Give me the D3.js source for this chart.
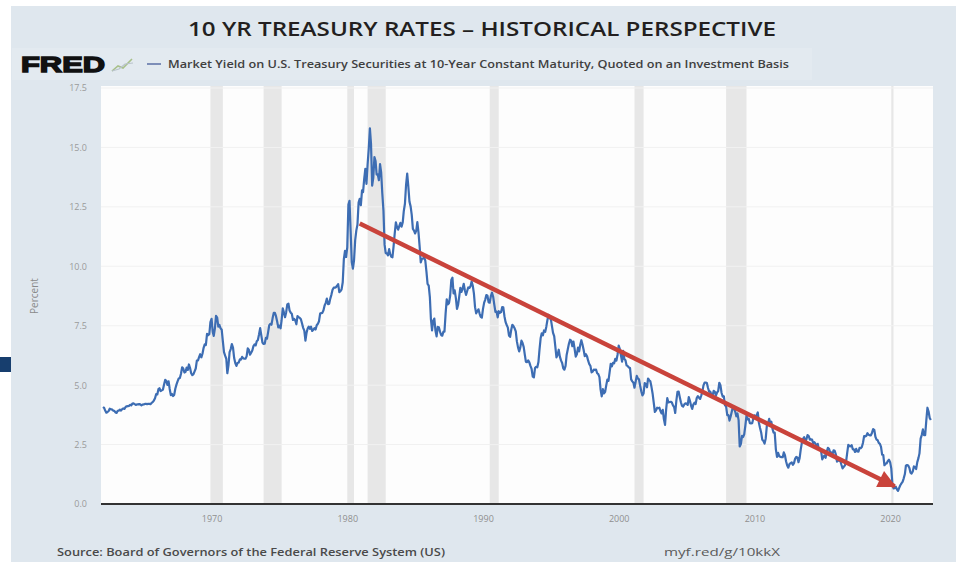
<!DOCTYPE html>
<html>
<head>
<meta charset="utf-8">
<script src="https://cdn.jsdelivr.net/npm/d3@7"></script>
<style>
  html, body { margin: 0; padding: 0; background: #ffffff; }
  svg { display: block; font-family: "Open Sans", "DejaVu Sans", sans-serif; }
</style>
</head>
<body>
<div id="chart"></div>
<script>
// Chart sizes
const WIDTH = 956;
const HEIGHT = 562;
const PLOT = { left: 101, right: 933, top: 86, bottom: 504 };

// Texts
const TITLE = "10 YR TREASURY RATES \u2013 HISTORICAL PERSPECTIVE";
const SERIES_NAME = "Market Yield on U.S. Treasury Securities at 10-Year Constant Maturity, Quoted on an Investment Basis";
const Y_LABEL = "Percent";
const SOURCE = "Source: Board of Governors of the Federal Reserve System (US)";
const LINK = "myf.red/g/10kkX";

// Data: monthly yield in percent, starting January of START_YEAR
const START_YEAR = 1962;
const yieldPct = [
  4.08, 4.04, 3.93, 3.84, 3.87, 3.91, 4.01, 3.98, 3.98, 3.93, 3.92, 3.86,
  3.83, 3.92, 3.93, 3.97, 3.93, 3.99, 4.02, 4.00, 4.08, 4.11, 4.12, 4.13,
  4.17, 4.15, 4.22, 4.23, 4.20, 4.17, 4.19, 4.19, 4.20, 4.19, 4.15, 4.18,
  4.19, 4.21, 4.21, 4.20, 4.21, 4.21, 4.20, 4.25, 4.29, 4.35, 4.45, 4.62,
  4.61, 4.83, 4.87, 4.75, 4.78, 4.81, 5.02, 5.22, 5.18, 5.01, 5.16, 4.84,
  4.58, 4.63, 4.54, 4.59, 4.85, 5.02, 5.16, 5.28, 5.30, 5.48, 5.75, 5.70,
  5.53, 5.56, 5.74, 5.64, 5.87, 5.72, 5.50, 5.42, 5.46, 5.58, 5.70, 6.03,
  6.04, 6.19, 6.30, 6.17, 6.32, 6.57, 6.72, 6.69, 7.16, 7.10, 7.14, 7.65,
  7.79, 7.24, 7.07, 7.39, 7.91, 7.84, 7.46, 7.53, 7.39, 7.33, 6.84, 6.39,
  6.24, 6.11, 5.50, 5.83, 6.39, 6.52, 6.73, 6.58, 6.14, 5.93, 5.81, 5.93,
  5.95, 6.08, 6.07, 6.19, 6.13, 6.11, 6.11, 6.21, 6.55, 6.48, 6.28, 6.36,
  6.46, 6.64, 6.71, 6.67, 6.85, 6.90, 7.13, 7.40, 7.09, 6.79, 6.73, 6.74,
  6.99, 6.96, 7.21, 7.51, 7.58, 7.54, 7.81, 8.04, 8.04, 7.90, 7.68, 7.43,
  7.50, 7.39, 7.73, 8.23, 8.06, 7.86, 8.06, 8.40, 8.43, 8.14, 8.05, 8.00,
  7.74, 7.79, 7.73, 7.56, 7.90, 7.86, 7.83, 7.77, 7.59, 7.41, 7.29, 6.87,
  7.21, 7.39, 7.46, 7.37, 7.46, 7.28, 7.33, 7.40, 7.34, 7.52, 7.58, 7.69,
  8.01, 8.03, 8.04, 8.15, 8.35, 8.46, 8.64, 8.41, 8.42, 8.64, 8.81, 9.01,
  9.10, 9.10, 9.12, 9.18, 9.25, 8.91, 8.95, 9.03, 9.33, 10.30, 10.65, 10.39,
  10.80, 12.60, 12.75, 11.47, 10.18, 9.90, 10.25, 11.10, 11.51, 11.75, 12.68, 12.84,
  12.57, 13.19, 13.12, 13.68, 14.10, 13.47, 14.28, 14.94, 15.80, 15.15, 13.39, 13.72,
  14.59, 14.43, 13.86, 13.87, 13.62, 14.30, 13.95, 13.06, 12.34, 10.91, 10.55, 10.54,
  10.46, 10.72, 10.51, 10.40, 10.38, 10.85, 11.38, 11.85, 11.65, 11.54, 11.69, 11.83,
  11.67, 11.84, 12.32, 12.63, 13.41, 13.90, 13.36, 12.72, 12.52, 12.16, 11.57, 11.50,
  11.38, 11.51, 11.86, 11.43, 10.85, 10.16, 10.31, 10.33, 10.37, 10.24, 9.78, 9.26,
  9.19, 8.70, 7.78, 7.30, 7.71, 7.80, 7.30, 7.05, 7.45, 7.43, 7.25, 7.11,
  7.08, 7.25, 7.25, 8.02, 8.61, 8.40, 8.45, 8.76, 9.42, 9.52, 8.86, 8.99,
  8.67, 8.21, 8.37, 8.72, 9.09, 8.92, 9.06, 9.26, 8.98, 8.80, 8.96, 9.11,
  9.09, 9.17, 9.36, 9.18, 8.86, 8.28, 8.02, 8.11, 8.19, 8.01, 7.87, 7.84,
  8.21, 8.47, 8.59, 8.79, 8.76, 8.48, 8.47, 8.75, 8.89, 8.72, 8.39, 8.08,
  8.09, 7.85, 8.11, 8.04, 8.07, 8.28, 8.27, 7.90, 7.65, 7.53, 7.42, 7.09,
  7.03, 7.34, 7.54, 7.48, 7.39, 7.26, 6.84, 6.59, 6.42, 6.59, 6.87, 6.77,
  6.60, 6.26, 5.98, 5.97, 6.04, 5.96, 5.81, 5.68, 5.36, 5.33, 5.72, 5.77,
  5.75, 5.97, 6.48, 6.97, 7.18, 7.10, 7.30, 7.24, 7.46, 7.74, 7.96, 7.81,
  7.78, 7.47, 7.20, 7.06, 6.63, 6.17, 6.28, 6.49, 6.20, 6.04, 5.93, 5.71,
  5.65, 5.81, 6.27, 6.51, 6.74, 6.91, 6.87, 6.64, 6.83, 6.53, 6.20, 6.30,
  6.58, 6.42, 6.69, 6.89, 6.71, 6.49, 6.22, 6.30, 6.21, 6.03, 5.88, 5.81,
  5.54, 5.57, 5.65, 5.64, 5.65, 5.50, 5.46, 5.34, 4.81, 4.53, 4.83, 4.65,
  4.72, 5.00, 5.23, 5.18, 5.54, 5.90, 5.79, 5.94, 5.92, 6.11, 6.03, 6.28,
  6.66, 6.52, 6.26, 5.99, 6.44, 6.10, 6.05, 5.83, 5.80, 5.74, 5.72, 5.24,
  5.16, 5.10, 4.89, 5.14, 5.39, 5.28, 5.24, 4.97, 4.73, 4.57, 4.65, 5.09,
  5.04, 4.91, 5.28, 5.21, 5.16, 4.93, 4.65, 4.26, 3.87, 3.94, 4.05, 4.03,
  4.05, 3.90, 3.81, 3.96, 3.57, 3.33, 3.98, 4.45, 4.27, 4.29, 4.30, 4.27,
  4.15, 4.08, 3.83, 4.35, 4.72, 4.73, 4.50, 4.28, 4.13, 4.10, 4.19, 4.23,
  4.22, 4.17, 4.50, 4.34, 4.14, 4.00, 4.18, 4.26, 4.20, 4.46, 4.54, 4.47,
  4.42, 4.57, 4.72, 4.99, 5.11, 5.11, 5.09, 4.88, 4.72, 4.73, 4.60, 4.56,
  4.76, 4.72, 4.56, 4.69, 4.75, 5.10, 5.00, 4.67, 4.52, 4.53, 4.15, 4.10,
  3.74, 3.74, 3.51, 3.68, 3.88, 4.10, 4.01, 3.89, 3.69, 3.81, 3.53, 2.42,
  2.52, 2.87, 2.82, 2.93, 3.29, 3.72, 3.56, 3.59, 3.40, 3.39, 3.40, 3.59,
  3.73, 3.69, 3.73, 3.85, 3.42, 3.20, 3.01, 2.70, 2.65, 2.54, 2.76, 3.29,
  3.39, 3.58, 3.41, 3.46, 3.17, 3.00, 3.00, 2.30, 1.98, 2.15, 2.01, 1.98,
  1.97, 1.97, 2.17, 2.05, 1.80, 1.62, 1.53, 1.68, 1.72, 1.75, 1.65, 1.72,
  1.91, 1.98, 1.96, 1.76, 1.93, 2.30, 2.58, 2.74, 2.81, 2.62, 2.72, 2.90,
  2.86, 2.71, 2.72, 2.71, 2.56, 2.60, 2.54, 2.42, 2.53, 2.30, 2.33, 2.21,
  1.88, 1.98, 2.04, 1.94, 2.20, 2.36, 2.32, 2.17, 2.17, 2.07, 2.26, 2.24,
  2.09, 1.78, 1.89, 1.81, 1.81, 1.64, 1.50, 1.56, 1.63, 1.76, 2.14, 2.49,
  2.43, 2.42, 2.48, 2.30, 2.30, 2.19, 2.32, 2.21, 2.20, 2.36, 2.35, 2.40,
  2.58, 2.86, 2.84, 2.87, 2.98, 2.91, 2.89, 2.89, 3.00, 3.15, 3.12, 2.83,
  2.71, 2.68, 2.57, 2.53, 2.40, 2.07, 2.06, 1.63, 1.70, 1.71, 1.81, 1.86,
  1.76, 1.50, 0.87, 0.66, 0.67, 0.73, 0.62, 0.55, 0.68, 0.79, 0.87, 0.93,
  1.08, 1.26, 1.61, 1.64, 1.62, 1.52, 1.32, 1.28, 1.37, 1.58, 1.56, 1.47,
  1.76, 1.93, 2.13, 2.75, 2.90, 3.14, 2.90, 2.90, 3.52, 4.05, 3.89, 3.62,
  3.53
];

// Recessions (shaded bands), year and month as "YYYY-MM"
const recessionStarts = ["1969-12", "1973-11", "1980-01", "1981-07", "1990-07", "2001-03", "2007-12", "2020-02"];
const recessionEnds   = ["1970-11", "1975-03", "1980-07", "1982-11", "1991-03", "2001-11", "2009-06", "2020-04"];

// Axis ticks
const xTickYears = [1970, 1980, 1990, 2000, 2010, 2020];
const yTicks = [0, 2.5, 5, 7.5, 10, 12.5, 15, 17.5];

// Trend arrow drawn on top: [year, percent]
const arrowFrom = [1980.9, 11.8];
const arrowTo = [2020.35, 0.75];

const parseMonth = d3.timeParse("%Y-%m");

function yearToDate(y) {
  let whole = Math.floor(y);
  return new Date(whole, Math.round((y - whole) * 12), 1);
}

draw();

function draw() {
  const data = yieldPct.map((v, i) => ({ date: new Date(START_YEAR, i, 1), value: v }));

  const svg = d3.select("#chart")
    .append("svg")
    .attr("width", WIDTH)
    .attr("height", HEIGHT);

  //background panel
  svg.append("rect")
    .attr("x", 0).attr("y", 0)
    .attr("width", WIDTH).attr("height", HEIGHT)
    .attr("fill", "#ffffff");

  svg.append("rect")
    .attr("x", 11).attr("y", 6)
    .attr("width", WIDTH - 11).attr("height", HEIGHT - 6)
    .attr("fill", "#dfe7ee");

  svg.append("rect")
    .attr("x", 12).attr("y", 48)
    .attr("width", 800).attr("height", 32)
    .attr("fill", "#e3eaf0");

  //little navy block on the left edge
  svg.append("rect")
    .attr("x", 0).attr("y", 357)
    .attr("width", 11).attr("height", 15)
    .attr("fill", "#173e6e");

  //plot area
  svg.append("rect")
    .attr("x", PLOT.left).attr("y", PLOT.top)
    .attr("width", PLOT.right - PLOT.left).attr("height", PLOT.bottom - PLOT.top)
    .attr("fill", "#fdfdfd");

  let x = d3.scaleTime()
    .domain([new Date(1962, 0, 1), new Date(2023, 1, 1)])
    .range([103, 932]);

  let y = d3.scaleLinear()
    .domain([0, 17.5])
    .range([PLOT.bottom, 88]);

  //recession bands
  svg.append("g")
    .selectAll("rect")
    .data(recessionStarts)
    .enter()
    .append("rect")
    .attr("x", d => x(parseMonth(d)))
    .attr("y", PLOT.top)
    .attr("width", (d, i) => x(parseMonth(recessionEnds[i])) - x(parseMonth(d)))
    .attr("height", PLOT.bottom - PLOT.top)
    .attr("fill", "#e7e7e7");

  //grid lines
  svg.append("g")
    .selectAll("line")
    .data(yTicks.slice(1))
    .enter()
    .append("line")
    .attr("x1", PLOT.left).attr("x2", PLOT.right)
    .attr("y1", d => y(d)).attr("y2", d => y(d))
    .attr("stroke", "#f1f1f1")
    .attr("stroke-width", 1);

  //y axis
  let gY = svg.append("g")
    .attr("transform", "translate(" + PLOT.left + ",0)")
    .call(d3.axisLeft(y).tickValues(yTicks).tickFormat(d3.format(".1f")).tickSize(0).tickPadding(14));
  gY.select(".domain").remove();
  gY.selectAll("text")
    .attr("fill", "#9a9a9a")
    .style("font-size", "9px")
    .style("font-family", "Open Sans");

  svg.append("text")
    .attr("transform", "translate(38," + y(8.75) + ") rotate(-90)")
    .attr("text-anchor", "middle")
    .attr("fill", "#8a8a8a")
    .style("font-size", "10px")
    .text(Y_LABEL);

  //x axis
  let gX = svg.append("g")
    .attr("transform", "translate(0," + PLOT.bottom + ")")
    .call(d3.axisBottom(x).tickValues(xTickYears.map(yr => new Date(yr, 0, 1))).tickFormat(d3.timeFormat("%Y")).tickSize(0).tickPadding(12));
  gX.select(".domain").remove();
  gX.selectAll("text")
    .attr("fill", "#8f8f8f")
    .style("font-size", "9px")
    .style("font-family", "Open Sans");

  svg.append("line")
    .attr("x1", PLOT.left).attr("x2", PLOT.right)
    .attr("y1", PLOT.bottom).attr("y2", PLOT.bottom)
    .attr("stroke", "#333333")
    .attr("stroke-width", 2);

  //yield line
  svg.append("path")
    .datum(data)
    .attr("fill", "none")
    .attr("stroke", "#3d6db3")
    .attr("stroke-width", 2.2)
    .attr("stroke-linejoin", "round")
    .attr("d", d3.line()
      .x(d => x(d.date))
      .y(d => y(d.value))
    );

  //trend arrow
  svg.append("defs")
    .append("marker")
    .attr("id", "head")
    .attr("viewBox", "0 0 10 10")
    .attr("refX", 9)
    .attr("refY", 5)
    .attr("markerUnits", "userSpaceOnUse")
    .attr("markerWidth", 22)
    .attr("markerHeight", 18)
    .attr("orient", "auto")
    .append("path")
    .attr("d", "M0,0 L10,5 L0,10 Z")
    .attr("fill", "#c9433b");

  svg.append("line")
    .attr("x1", x(yearToDate(arrowFrom[0]))).attr("y1", y(arrowFrom[1]))
    .attr("x2", x(yearToDate(arrowTo[0]))).attr("y2", y(arrowTo[1]))
    .attr("stroke", "#c9433b")
    .attr("stroke-width", 4.5)
    .attr("marker-end", "url(#head)");

  //title
  svg.append("text")
    .attr("x", 482).attr("y", 36)
    .attr("text-anchor", "middle")
    .attr("textLength", 588)
    .attr("lengthAdjust", "spacingAndGlyphs")
    .attr("fill", "#231f20")
    .style("font-size", "20px")
    .style("font-weight", 600)
    .text(TITLE);

  //FRED logo + series legend
  svg.append("text")
    .attr("x", 21).attr("y", 72)
    .attr("textLength", 84)
    .attr("lengthAdjust", "spacingAndGlyphs")
    .attr("fill", "#111111")
    .attr("stroke", "#111111")
    .attr("stroke-width", 1.4)
    .style("font-family", "Liberation Sans")
    .style("font-size", "22px")
    .style("font-weight", 700)
    .text("FRED");

  svg.append("path")
    .attr("d", "M112,71 L118,66 L123,68 L132,59")
    .attr("fill", "none")
    .attr("stroke", "#a8c08a")
    .attr("stroke-width", 1.6);
  svg.append("path")
    .attr("d", "M112,71 L119,69 L125,64 L133,63")
    .attr("fill", "none")
    .attr("stroke", "#b9c3cc")
    .attr("stroke-width", 1.2);

  svg.append("line")
    .attr("x1", 147).attr("x2", 161)
    .attr("y1", 64).attr("y2", 64)
    .attr("stroke", "#5b6fa6")
    .attr("stroke-width", 1.5);

  svg.append("text")
    .attr("x", 168).attr("y", 68)
    .attr("textLength", 621)
    .attr("lengthAdjust", "spacingAndGlyphs")
    .attr("fill", "#404040")
    .style("font-size", "11px")
    .style("font-weight", 600)
    .text(SERIES_NAME);

  //footer
  svg.append("text")
    .attr("x", 57).attr("y", 556)
    .attr("textLength", 388)
    .attr("lengthAdjust", "spacingAndGlyphs")
    .attr("fill", "#4a4a4a")
    .style("font-size", "11px")
    .style("font-weight", 600)
    .text(SOURCE);

  svg.append("text")
    .attr("x", 664).attr("y", 556)
    .attr("textLength", 116)
    .attr("lengthAdjust", "spacingAndGlyphs")
    .attr("fill", "#5a5a5a")
    .style("font-size", "11px")
    .text(LINK);
}
</script>
</body>
</html>
